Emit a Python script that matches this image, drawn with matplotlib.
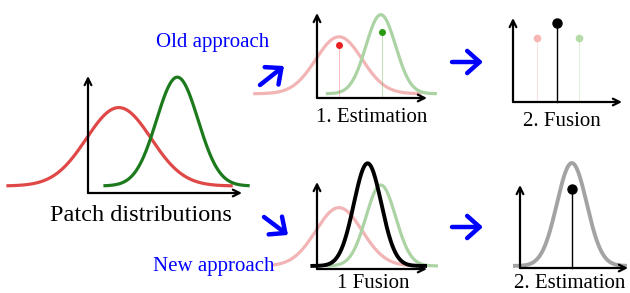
import numpy as np
import matplotlib
matplotlib.use("Agg")
import matplotlib.pyplot as plt

plt.rcParams["font.family"] = ["Liberation Serif", "DejaVu Serif"]

W, H = 630, 293

# distributions in a shared space: 0 = y axis, 1 = tip of the x axis
red_mu, red_sd, red_amp = 0.20, 0.21, 0.67
green_mu, green_sd, green_amp = 0.58, 0.135, 0.93
fused_mu, fused_sd, fused_amp = 0.46, 0.125, 1.18
final_mu, final_sd, final_amp = 0.48, 0.138, 1.24

# old approach: estimate each patch, then fuse the estimates
est_x = [0.20, 0.59]
est_y = [0.62, 0.78]
fuse_x = [0.22, 0.40, 0.61]
fuse_y = [0.76, 0.94, 0.76]
# new approach: fuse the distributions, then estimate
new_est_x, new_est_y = 0.48, 0.95

RED, GREEN = "#e04848", "#1c7a1c"
RED_L, GREEN_L = "#f2b4b4", "#acd3a4"
GRAY = "#a3a3a3"
BLUE = "#0000ff"

fig = plt.figure(figsize=(W / 100, H / 100), dpi=100)


def panel(x0, y0, x1, y1):
    # x0,y0 = origin (px), x1 = end of x axis, y1 = top of y axis
    ax = fig.add_axes([x0 / W, 1 - y0 / H, (x1 - x0) / W, (y0 - y1) / H])
    ax.set_xlim(0, 1)
    ax.set_ylim(0, 1)
    ax.axis("off")
    ap = dict(arrowstyle="->", lw=1.6, color="k", mutation_scale=12,
              shrinkA=0, shrinkB=0)
    ax.annotate("", xy=(1, 0), xytext=(0, 0), arrowprops=ap, annotation_clip=False)
    ax.annotate("", xy=(0, 1), xytext=(0, 0), arrowprops=ap, annotation_clip=False)
    return ax


def gauss(ax, mu, sd, amp, lo, hi, base, **kw):
    x = np.linspace(lo, hi, 300)
    ax.plot(x, base + amp * np.exp(-0.5 * ((x - mu) / sd) ** 2),
            clip_on=False, solid_capstyle="butt", **kw)


# patch distributions
ax1 = panel(88, 193, 242, 76)
gauss(ax1, red_mu, red_sd, red_amp, -0.53, 0.94, 0.06, color=RED, lw=2.3)
gauss(ax1, green_mu, green_sd, green_amp, 0.10, 1.05, 0.06, color=GREEN, lw=2.3)

# old approach, 1. estimation
ax2 = panel(317, 98, 427, 13)
gauss(ax2, red_mu, red_sd, red_amp, -0.58, 0.95, 0.05, color=RED_L, lw=2.3)
gauss(ax2, green_mu, green_sd, green_amp, 0.08, 1.09, 0.05, color=GREEN_L, lw=2.3)
for x, y, c in zip(est_x, est_y, ["#e82020", "#2a9a10"]):
    ax2.plot([x, x], [0, y], color=c, lw=0.6, alpha=0.35, clip_on=False)
    ax2.plot(x, y, "o", color=c, ms=4, clip_on=False)

# old approach, 2. fusion
ax3 = panel(513, 102, 622, 18)
for x, y, c, lw, ms in zip(fuse_x, fuse_y, ["#f6b6b6", "k", "#b4dca8"],
                           [0.5, 1.0, 0.5], [4.5, 6.5, 4.5]):
    ax3.plot([x, x], [0, y], color=c, lw=lw, alpha=0.6 if c != "k" else 1,
             clip_on=False)
    ax3.plot(x, y, "o", color=c, ms=ms, clip_on=False)

# new approach, 1 fusion
ax4 = panel(317, 269, 427, 182)
gauss(ax4, red_mu, red_sd, red_amp, -0.41, 0.94, 0.035, color=RED_L, lw=2.3)
gauss(ax4, green_mu, green_sd, green_amp, 0.08, 1.10, 0.035, color=GREEN_L, lw=2.3)
gauss(ax4, fused_mu, fused_sd, fused_amp, -0.06, 1.0, 0.035, color="k", lw=2.8)

# new approach, 2. estimation
ax5 = panel(520, 268, 628, 185)
gauss(ax5, final_mu, final_sd, final_amp, -0.065, 0.99, 0.025, color=GRAY, lw=2.8)
ax5.plot([new_est_x, new_est_x], [0, new_est_y], color="k", lw=1.0, clip_on=False)
ax5.plot(new_est_x, new_est_y, "o", color="k", ms=6.5, clip_on=False)

# labels and connecting arrows, in pixel coordinates
top = fig.add_axes([0, 0, 1, 1])
top.set_xlim(0, W)
top.set_ylim(H, 0)
top.axis("off")
top.patch.set_alpha(0)

top.text(141, 221, "Patch distributions", fontsize=17.5, ha="center", va="baseline")
top.text(371.5, 122, "1. Estimation", fontsize=15, ha="center", va="baseline")
top.text(561.5, 126, "2. Fusion", fontsize=15, ha="center", va="baseline")
top.text(373.5, 288.5, "1 Fusion", fontsize=15, ha="center", va="baseline")
top.text(569.5, 287.5, "2. Estimation", fontsize=15, ha="center", va="baseline")
top.text(212.5, 47, "Old approach", fontsize=15, color=BLUE, ha="center", va="baseline")
top.text(213.5, 271, "New approach", fontsize=15, color=BLUE, ha="center", va="baseline")

bp = dict(arrowstyle="->,head_length=0.45,head_width=0.4", lw=3.2, color=BLUE,
          mutation_scale=20, shrinkA=0, shrinkB=0)
for (xa, ya), (xb, yb) in [((260, 85), (284, 66)), ((264, 217), (288, 235)),
                           ((452, 62), (483, 62)), ((452, 227), (483, 227))]:
    top.annotate("", xy=(xb, yb), xytext=(xa, ya), arrowprops=bp)

fig.savefig("out.png", dpi=100)
